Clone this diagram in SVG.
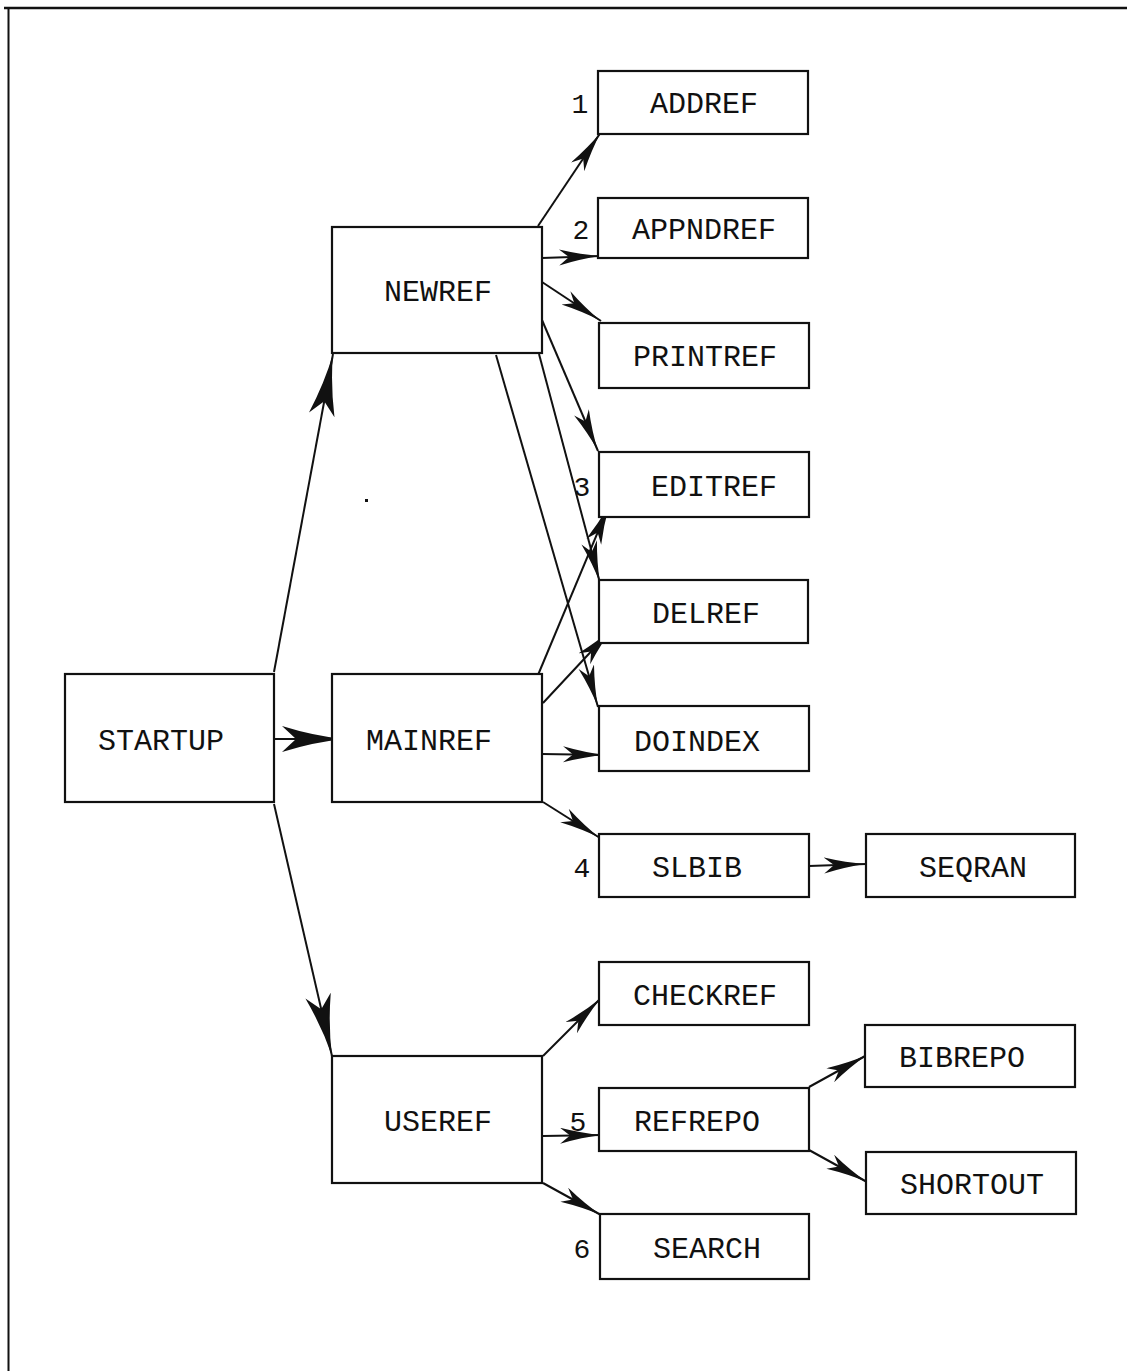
<svg xmlns="http://www.w3.org/2000/svg" width="1127" height="1371" viewBox="0 0 1127 1371">
<style>
  .box{fill:#fff;stroke:#111;stroke-width:2.2}
  .lbl{font-family:"Liberation Mono","DejaVu Sans Mono",monospace;font-size:30px;fill:#111;text-anchor:middle}
  .num{font-family:"Liberation Mono","DejaVu Sans Mono",monospace;font-size:28px;fill:#111;text-anchor:middle}
  .con{stroke:#111;stroke-width:2;fill:none;marker-end:url(#arr)}
  .big{marker-end:url(#arrBig)}
  .frame{stroke:#111;fill:none}
</style>
<defs>
  <marker id="arr" markerUnits="userSpaceOnUse" markerWidth="44" markerHeight="18" refX="42" refY="8" orient="auto">
    <path d="M0,0 Q22,6 42,8 Q22,10 0,16 L10,8 Z" fill="#111"/>
  </marker>
  <marker id="arrBig" markerUnits="userSpaceOnUse" markerWidth="64" markerHeight="28" refX="62" refY="13" orient="auto">
    <path d="M0,0 Q32,10 62,13 Q32,16 0,26 L14,13 Z" fill="#111"/>
  </marker>
</defs>
<rect width="1127" height="1371" fill="#fff"/>
<g id="frame">
  <path class="frame" stroke-width="2.6" d="M4,8 H1127"/>
  <path class="frame" stroke-width="2" d="M8.5,7 V1371"/>
</g>
<g id="connectors">
  <line class="con big" x1="274" y1="672" x2="333" y2="354"/>
  <line class="con big" x1="275" y1="739" x2="344" y2="739"/>
  <line class="con big" x1="274" y1="804" x2="332" y2="1056"/>
  <line class="con" x1="538" y1="226" x2="601" y2="132"/>
  <line class="con" x1="542" y1="258" x2="601" y2="256"/>
  <line class="con" x1="542" y1="282" x2="601" y2="321"/>
  <line class="con" x1="542" y1="320" x2="598" y2="451"/>
  <line class="con" x1="539" y1="354" x2="600" y2="583"/>
  <line class="con" x1="496" y1="355" x2="598" y2="707"/>
  <line class="con" x1="538" y1="675" x2="610" y2="503"/>
  <line class="con" x1="543" y1="703" x2="613" y2="628"/>
  <line class="con" x1="542" y1="754" x2="605" y2="755"/>
  <line class="con" x1="543" y1="802" x2="600" y2="838"/>
  <line class="con" x1="809" y1="866" x2="866" y2="864"/>
  <line class="con" x1="543" y1="1056" x2="601" y2="998"/>
  <line class="con" x1="543" y1="1136" x2="602" y2="1135"/>
  <line class="con" x1="543" y1="1183" x2="601" y2="1215"/>
  <line class="con" x1="809" y1="1087" x2="867" y2="1055"/>
  <line class="con" x1="809" y1="1150" x2="867" y2="1182"/>
</g>
<g id="STARTUP"><rect class="box" x="65" y="674" width="209" height="128"/><text class="lbl" x="161" y="750">STARTUP</text></g>
<g id="NEWREF"><rect class="box" x="332" y="227" width="210" height="126"/><text class="lbl" x="438" y="301">NEWREF</text></g>
<g id="MAINREF"><rect class="box" x="332" y="674" width="210" height="128"/><text class="lbl" x="429" y="750">MAINREF</text></g>
<g id="USEREF"><rect class="box" x="332" y="1056" width="210" height="127"/><text class="lbl" x="438" y="1131">USEREF</text></g>
<g id="ADDREF"><rect class="box" x="598" y="71" width="210" height="63"/><text class="lbl" x="704" y="113">ADDREF</text><text class="num" x="580" y="113">1</text></g>
<g id="APPNDREF"><rect class="box" x="598" y="198" width="210" height="60"/><text class="lbl" x="704" y="239">APPNDREF</text><text class="num" x="581" y="239">2</text></g>
<g id="PRINTREF"><rect class="box" x="599" y="323" width="210" height="65"/><text class="lbl" x="705" y="366">PRINTREF</text></g>
<g id="EDITREF"><rect class="box" x="599" y="452" width="210" height="65"/><text class="lbl" x="714" y="496">EDITREF</text><text class="num" x="582" y="496">3</text></g>
<g id="DELREF"><rect class="box" x="599" y="580" width="209" height="63"/><text class="lbl" x="706" y="623">DELREF</text></g>
<g id="DOINDEX"><rect class="box" x="599" y="706" width="210" height="65"/><text class="lbl" x="697" y="751">DOINDEX</text></g>
<g id="SLBIB"><rect class="box" x="599" y="834" width="210" height="63"/><text class="lbl" x="697" y="877">SLBIB</text><text class="num" x="582" y="877">4</text></g>
<g id="SEQRAN"><rect class="box" x="866" y="834" width="209" height="63"/><text class="lbl" x="973" y="877">SEQRAN</text></g>
<g id="CHECKREF"><rect class="box" x="599" y="962" width="210" height="63"/><text class="lbl" x="705" y="1005">CHECKREF</text></g>
<g id="BIBREPO"><rect class="box" x="865" y="1025" width="210" height="62"/><text class="lbl" x="962" y="1067">BIBREPO</text></g>
<g id="REFREPO"><rect class="box" x="599" y="1088" width="210" height="63"/><text class="lbl" x="697" y="1131">REFREPO</text><text class="num" x="578" y="1131">5</text></g>
<g id="SHORTOUT"><rect class="box" x="866" y="1152" width="210" height="62"/><text class="lbl" x="972" y="1194">SHORTOUT</text></g>
<g id="SEARCH"><rect class="box" x="600" y="1214" width="209" height="65"/><text class="lbl" x="707" y="1258">SEARCH</text><text class="num" x="582" y="1258">6</text></g>
<rect x="365" y="499" width="3" height="3" fill="#111"/>
</svg>
